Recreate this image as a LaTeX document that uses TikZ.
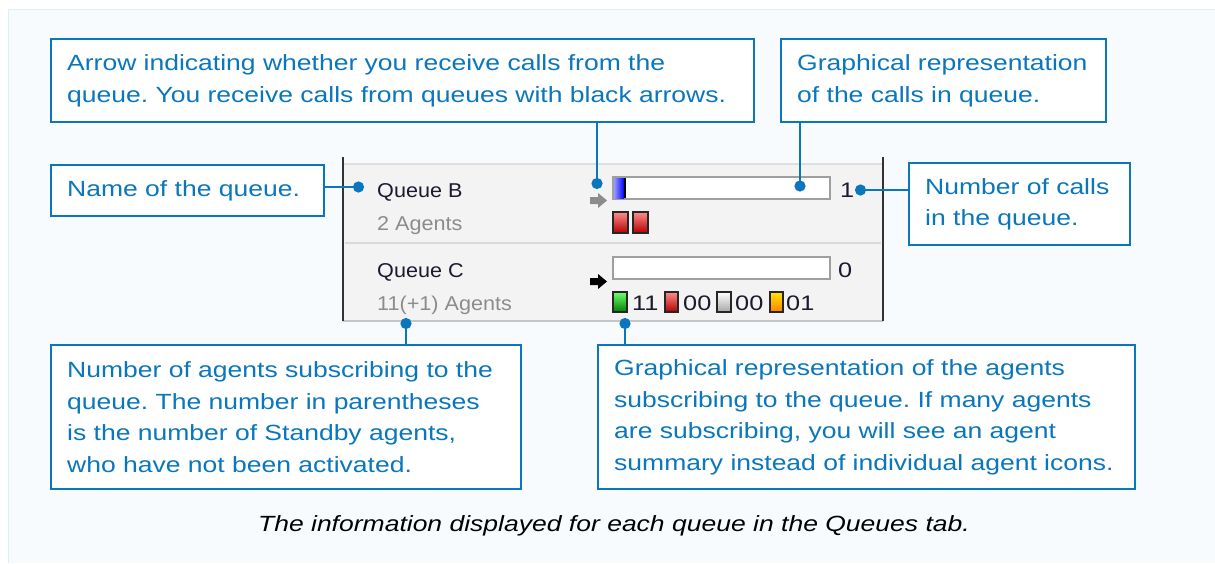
\documentclass[tikz,border=0pt]{standalone}
\usepackage{fontspec}
\setmainfont{Liberation Sans}
\newfontfamily\widefont[FakeStretch=1.205]{Liberation Sans}
\newfontfamily\queuefont[FakeStretch=1.08]{Liberation Sans}
\usepackage{xcolor}
\usetikzlibrary{arrows.meta}

\definecolor{qblue}{HTML}{0A77BD}
\definecolor{pagebg}{HTML}{F7FBFD}
\definecolor{pageline}{HTML}{DCEEF6}
\definecolor{panelbg}{HTML}{F3F3F3}
\definecolor{agentgray}{HTML}{8C8C8C}
\definecolor{qdark}{HTML}{1C1A2E}

\frenchspacing
\begin{document}
\begin{tikzpicture}[
  x=1pt, y=-1pt,
  callout/.style={draw=qblue, line width=2.4pt, fill=white, text=qblue, anchor=north west, align=left, inner xsep=16pt, inner ysep=0pt, font=\widefont\fontsize{22}{31.7}\selectfont},
  lead/.style={draw=qblue, line width=2.6pt, -{Circle[length=11pt]}},
  qname/.style={anchor=base west, inner sep=0pt, text=qdark, font=\queuefont\fontsize{20}{24}\selectfont},
  qagents/.style={qname, text=agentgray},
  qcount/.style={qname, font=\widefont\fontsize{21}{24}\selectfont},
  callbar/.style={draw=gray!75, line width=1.2pt, fill=white},
  agentbox/.style={draw=black!85, line width=1.2pt}
]
\useasboundingbox (0,0) rectangle (1215,563);

% page and queue panel
\fill[pagebg] (8,9) rectangle (1215,563);
\draw[pageline, line width=1pt] (1215,9) -- (8,9) -- (8,563);
\fill[panelbg] (343,163) rectangle (883,321);
\draw[gray!25, line width=1.5pt] (343,164) -- (883,164);
\draw[gray!30, line width=1.5pt] (345,243) -- (881,243);
\draw[gray!45, line width=1.5pt] (343,321) -- (883,321);
\draw[black!80, line width=1.5pt] (343,157) -- (343,321);
\draw[black!80, line width=1.5pt] (883,157) -- (883,321);

% queue B
\node[qname] (qb) at (377,197) {Queue B};
\node[qagents] (qbagents) at (377,230) {2 Agents};
\draw[callbar] (613,177) rectangle (830,199);
\shade[left color=blue!40, right color=blue] (614,178) rectangle (624,198);
\draw[black, line width=1.5pt] (625,178) -- (625,198);
\node[qcount] (qbcount) at (840,197) {1};
\fill[gray!90] (590,197) -- (598,197) -- (598,193) -- (607,200.5) -- (598,208) -- (598,204) -- (590,204) -- cycle;
\shadedraw[agentbox, top color=red!45!white, bottom color=red!70!black] (613,212) rectangle (628,233);
\shadedraw[agentbox, top color=red!45!white, bottom color=red!70!black] (633,212) rectangle (648,233);

% queue C
\node[qname] (qc) at (377,277) {Queue C};
\node[qagents] (qcagents) at (377,310) {11(+1) Agents};
\draw[callbar] (613,257) rectangle (830,279);
\node[qcount] (qccount) at (838,277) {0};
\fill[black] (590,278) -- (598,278) -- (598,274) -- (607,281.5) -- (598,289) -- (598,285) -- (590,285) -- cycle;
\shadedraw[agentbox, top color=green!55!white, bottom color=green!50!black] (613,292) rectangle (627,312);
\node[qcount] (cntgreen) at (632,310) {11};
\shadedraw[agentbox, top color=red!45!white, bottom color=red!70!black] (665,292) rectangle (678,312);
\node[qcount] (cntred) at (683,310) {00};
\shadedraw[agentbox, top color=white, bottom color=gray!70] (717,292) rectangle (731,312);
\node[qcount] (cntgray) at (735,310) {00};
\shadedraw[agentbox, top color=yellow!80!orange, bottom color=orange] (770,292) rectangle (783,312);
\node[qcount] (cntorange) at (786,310) {01};

% callouts
\node[callout, text width=671pt, minimum height=83pt] (arrowbox) at (50,38) {Arrow indicating whether you receive calls from the\\queue. You receive calls from queues with black arrows.};
\node[callout, text width=293pt, minimum height=83pt] (graphbox) at (780,38) {Graphical representation\\of the calls in queue.};
\node[callout, text width=241pt, minimum height=51pt] (namebox) at (50,164) {Name of the queue.};
\node[callout, text width=189pt, minimum height=82pt] (numbox) at (908,162) {Number of calls\\in the queue.};
\node[callout, text width=438pt, minimum height=144pt] (agentsbox) at (50,344) {Number of agents subscribing to the\\queue. The number in parentheses\\is the number of Standby agents,\\who have not been activated.};
\node[callout, text width=505pt, minimum height=144pt] (iconsbox) at (597,344) {Graphical representation of the agents\\subscribing to the queue. If many agents\\are subscribing, you will see an agent\\summary instead of individual agent icons.};

\coordinate (arrowdot) at (597,189);
\coordinate (graphdot) at (800,191.5);
\coordinate (namedot) at (364,187);
\coordinate (numdot) at (855,190);
\coordinate (agentsdot) at (406,318);
\coordinate (iconsdot) at (625,318);

\draw[lead] (arrowdot |- arrowbox.south) -- (arrowdot);
\draw[lead] (graphdot |- graphbox.south) -- (graphdot);
\draw[lead] (namedot -| namebox.east) -- (namedot);
\draw[lead] (numdot -| numbox.west) -- (numdot);
\draw[lead] (agentsdot |- agentsbox.north) -- (agentsdot);
\draw[lead] (iconsdot |- iconsbox.north) -- (iconsdot);

% caption
\node[font=\widefont\fontsize{22}{26}\selectfont\itshape, anchor=base] (caption) at (614,531) {The information displayed for each queue in the Queues tab.};
\end{tikzpicture}
\end{document}
